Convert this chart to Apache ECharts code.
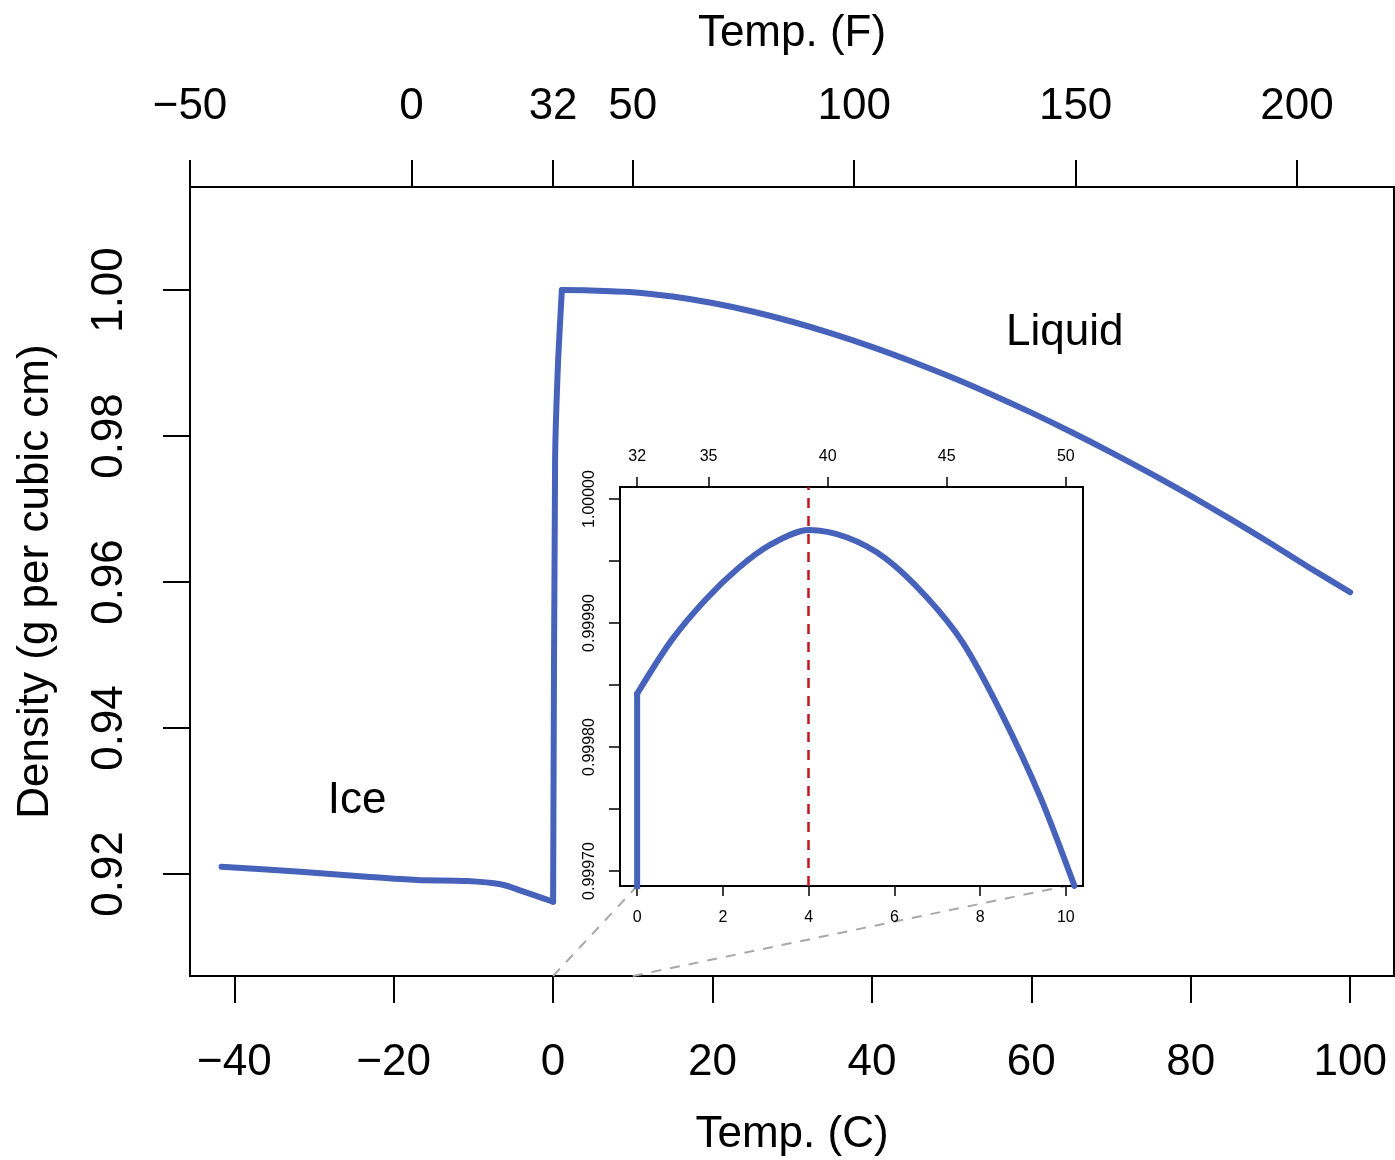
<!DOCTYPE html>
<html>
<head>
<meta charset="utf-8">
<title>Density of water and ice</title>
<script src="https://cdn.jsdelivr.net/npm/echarts@6/dist/echarts.min.js"></script>
<style>
  html, body { margin: 0; padding: 0; background: #fff; }
  #chart { width: 1395px; height: 1160px; }
</style>
</head>
<body>
<div id="chart"></div>
<script>
// Ice branch (deg C, g/cm^3)
const iceTemp    = [-41.6, -31.7, -23.4, -17.1, -10.8, -6.6, -3.7, 0];
const iceDensity = [0.92100, 0.92032, 0.91963, 0.91918, 0.91904, 0.91859, 0.91760, 0.91620];

// Melting transition just above 0 C
const meltTemp    = [0.25, 0.63];
const meltDensity = [0.9767, 0.9904];

// Liquid water branch
const waterTemp    = [1.1, 4, 10, 15, 20, 25, 30, 35, 40, 45, 50, 55, 60, 65, 70, 75, 80, 85, 90, 95, 100];
const waterDensity = [1.00000, 0.99997, 0.99970, 0.99910, 0.99821, 0.99705, 0.99565, 0.99403, 0.99222,
                      0.99021, 0.98804, 0.98569, 0.98320, 0.98055, 0.97776, 0.97484, 0.97179, 0.96861,
                      0.96531, 0.96189, 0.95860];

// Close-up of liquid water between 0 and 10 C
const insetTemp    = [0, 0.8, 1.6, 2.35, 3.1, 4.0, 4.9, 5.8, 6.75, 7.6, 8.5, 9.4, 10.2];
const insetDensity = [0.999843, 0.999886, 0.999919, 0.999944, 0.999963, 0.999975, 0.999969,
                      0.999952, 0.999921, 0.999884, 0.999827, 0.999760, 0.999688];
const maxDensityTemp = 4;
const zoomRange = [0, 10];

// Ticks
const celsiusTicks    = [-40, -20, 0, 20, 40, 60, 80, 100];
const fahrenheitTicks = [-50, 0, 32, 50, 100, 150, 200];
const densityTicks    = [0.92, 0.94, 0.96, 0.98, 1.00];
const insetCTicks     = [0, 2, 4, 6, 8, 10];
const insetFTicks     = [32, 35, 40, 45, 50];
const insetDTicks     = [0.99970, 0.99975, 0.99980, 0.99985, 0.99990, 0.99995, 1.00000];
const insetDLabels    = [0.99970, 0.99980, 0.99990, 1.00000];

// Phase labels (data coordinates)
const phaseLabels = [
  { text: 'Liquid', temp: 64.2, density: 0.9941 },
  { text: 'Ice',    temp: -24.6, density: 0.9300 }
];

const toF = c => c * 9 / 5 + 32;
const minus = s => String(s).replace('-', '\u2212');

const FONT = 'Liberation Sans, Arial, Helvetica, sans-serif';
const BLUE = '#4662BA';

const mainX = [-45.556, 105.5];
const mainY = [0.90603, 1.01411];
const insetX = [-0.4, 10.4];
const insetY = [0.9996879, 1.0000097];

const zip = (a, b) => a.map((v, i) => [v, b[i]]);
const last = a => a[a.length - 1];

// ice end -> melt -> first liquid point
const stepData = [[last(iceTemp), last(iceDensity)]]
  .concat(zip(meltTemp, meltDensity))
  .concat([[waterTemp[0], waterDensity[0]]]);

const bigLabel = { fontFamily: FONT, fontSize: 44, color: '#000' };
const smallLabel = { fontFamily: FONT, fontSize: 16, color: '#000' };
const tickStyle = w => ({ color: '#000', width: w });
const noLine = { show: false, onZero: false };
const curve = (extra) => Object.assign({
  type: 'line', showSymbol: false, clip: true,
  lineStyle: { color: BLUE, width: 6, cap: 'round', join: 'round' }
}, extra);

const chart = echarts.init(document.getElementById('chart'), null, { renderer: 'canvas' });

chart.setOption({
  animation: false,
  backgroundColor: '#fff',
  grid: [
    { left: 190, top: 187, width: 1204, height: 789, show: true, outerBoundsMode: 'none',
      borderColor: '#000', borderWidth: 2, backgroundColor: 'transparent', containLabel: false },
    { left: 620, top: 487, width: 463, height: 399, show: true, outerBoundsMode: 'none',
      borderColor: '#000', borderWidth: 2, backgroundColor: '#fff', containLabel: false, z: 5 }
  ],
  xAxis: [
    { // Celsius, main
      type: 'value', gridIndex: 0, position: 'bottom', min: mainX[0], max: mainX[1],
      name: 'Temp. (C)', nameLocation: 'middle', nameGap: 137,
      nameTextStyle: { fontFamily: FONT, fontSize: 44, color: '#000' },
      axisLine: noLine,
      axisTick: { show: true, length: 27, lineStyle: tickStyle(2), customValues: celsiusTicks },
      axisLabel: Object.assign({ margin: 65, customValues: celsiusTicks, formatter: v => minus(v) }, bigLabel),
      splitLine: { show: false }
    },
    { // Fahrenheit, main
      type: 'value', gridIndex: 0, position: 'top', min: toF(mainX[0]), max: toF(mainX[1]),
      name: 'Temp. (F)', nameLocation: 'middle', nameGap: 131,
      nameTextStyle: { fontFamily: FONT, fontSize: 44, color: '#000' },
      axisLine: noLine,
      axisTick: { show: true, length: 27, lineStyle: tickStyle(2), customValues: fahrenheitTicks },
      axisLabel: Object.assign({ margin: 58, customValues: fahrenheitTicks, formatter: v => minus(Math.round(v)) }, bigLabel),
      splitLine: { show: false }
    },
    { // Celsius, inset
      type: 'value', gridIndex: 1, position: 'bottom', min: insetX[0], max: insetX[1],
      axisLine: noLine,
      axisTick: { show: true, length: 10, lineStyle: tickStyle(1.5), customValues: insetCTicks },
      axisLabel: Object.assign({ margin: 24, customValues: insetCTicks }, smallLabel),
      splitLine: { show: false }, z: 6
    },
    { // Fahrenheit, inset
      type: 'value', gridIndex: 1, position: 'top', min: toF(insetX[0]), max: toF(insetX[1]),
      axisLine: noLine,
      axisTick: { show: true, length: 10, lineStyle: tickStyle(1.5), customValues: insetFTicks },
      axisLabel: Object.assign({ margin: 22, customValues: insetFTicks, formatter: v => String(Math.round(v)) }, smallLabel),
      splitLine: { show: false }, z: 6
    }
  ],
  yAxis: [
    {
      type: 'value', gridIndex: 0, position: 'left', min: mainY[0], max: mainY[1],
      name: 'Density (g per cubic cm)', nameLocation: 'middle', nameGap: 132, nameRotate: 90,
      nameTextStyle: { fontFamily: FONT, fontSize: 44, color: '#000' },
      axisLine: noLine,
      axisTick: { show: true, length: 27, lineStyle: tickStyle(2), customValues: densityTicks },
      axisLabel: Object.assign({ margin: 58, rotate: 90, customValues: densityTicks, formatter: v => v.toFixed(2) }, bigLabel),
      splitLine: { show: false }
    },
    {
      type: 'value', gridIndex: 1, position: 'left', min: insetY[0], max: insetY[1],
      axisLine: noLine,
      axisTick: { show: true, length: 11, lineStyle: tickStyle(1.5), customValues: insetDTicks },
      axisLabel: Object.assign({ margin: 22, rotate: 90, customValues: insetDLabels, formatter: v => v.toFixed(5) }, smallLabel),
      splitLine: { show: false }, z: 6
    }
  ],
  series: [
    curve({ name: 'Ice', xAxisIndex: 0, yAxisIndex: 0, data: zip(iceTemp, iceDensity), smooth: 0.3, z: 3 }),
    curve({ name: 'Melting', xAxisIndex: 0, yAxisIndex: 0, data: stepData, smooth: 0.2, z: 3 }),
    curve({ name: 'Liquid', xAxisIndex: 0, yAxisIndex: 0, data: zip(waterTemp, waterDensity), smooth: 0.3, z: 3 }),
    // ice-to-liquid step at 0 C inside the close-up
    curve({ name: 'Melt step', xAxisIndex: 2, yAxisIndex: 1,
      data: [[last(iceTemp), last(iceDensity)], [insetTemp[0], insetDensity[0]]], z: 7 }),
    curve({
      name: 'Liquid 0-10 C', xAxisIndex: 2, yAxisIndex: 1,
      data: zip(insetTemp, insetDensity), smooth: 0.3, z: 7,
      markLine: {
        silent: true, symbol: ['none', 'none'], label: { show: false },
        lineStyle: { color: '#C0181F', width: 2.5, type: [10, 8] },
        data: [{ xAxis: maxDensityTemp }]
      }
    })
  ]
});

// Connector lines and phase labels placed through the axes' own scales
const mainPt = (c, d) => chart.convertToPixel({ xAxisIndex: 0, yAxisIndex: 0 }, [c, d]);
const insetPt = (c, d) => chart.convertToPixel({ xAxisIndex: 2, yAxisIndex: 1 }, [c, d]);

const graphics = [];
zoomRange.forEach(c => {
  const a = mainPt(c, mainY[0]);
  const b = insetPt(c, insetY[0]);
  graphics.push({
    type: 'line', z: 1, silent: true,
    shape: { x1: a[0], y1: a[1], x2: b[0], y2: b[1] },
    style: { stroke: '#A8A8A8', lineWidth: 2, lineDash: [10, 9] }
  });
});
phaseLabels.forEach(l => {
  const p = mainPt(l.temp, l.density);
  graphics.push({
    type: 'text', z: 10, silent: true, x: p[0], y: p[1],
    style: { text: l.text, fontFamily: FONT, fontSize: 44, fill: '#000', align: 'center', verticalAlign: 'middle' }
  });
});
chart.setOption({ graphic: graphics });
</script>
</body>
</html>
